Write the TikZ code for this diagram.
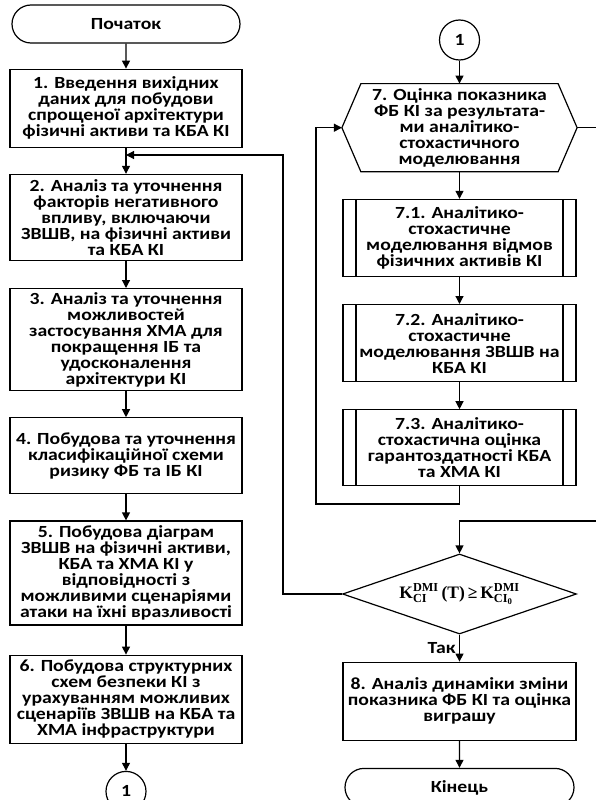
\documentclass[tikz,border=0pt]{standalone}
\usepackage{amsmath}
\usepackage{fontspec}
\setmainfont{Carlito}[FakeStretch=1.16]
\newfontfamily\formfont{Liberation Serif}
\usetikzlibrary{positioning,shapes.geometric,shapes.misc,arrows.meta}
\tikzset{main node/.style={rectangle,draw,line width=1.2pt,align=center,minimum width=232pt,inner sep=2pt,
    font=\bfseries\fontsize{17}{16}\selectfont},
  term node/.style={main node,rounded rectangle,minimum height=38pt},
  link node/.style={circle,draw,line width=1.2pt,minimum size=40pt,inner sep=0pt,
    font=\bfseries\fontsize{17}{16}\selectfont},
  sub node/.style={main node,path picture={
    \draw[line width=1.2pt] ([xshift=13pt]path picture bounding box.north west) -- ([xshift=13pt]path picture bounding box.south west)
      ([xshift=-13pt]path picture bounding box.north east) -- ([xshift=-13pt]path picture bounding box.south east);}},
  hex node/.style={main node,draw=none,minimum width=234pt,minimum height=87pt},
  cond node/.style={diamond,draw,line width=1.2pt,aspect=2.9,minimum width=234pt,minimum height=80pt,inner sep=0pt,
    font=\fontsize{17.5}{20}\selectfont},
  line/.style={line width=1.2pt},
  arrow/.style={line,-{Triangle[length=8pt,width=8pt]}},
}
\newcommand{\frm}[1]{\text{\formfont\bfseries #1}}

\begin{document}
\begin{tikzpicture}[x=1pt,y=-1pt,node distance=26pt]
	\clip (0,0) rectangle (596,800);
	% left column
	\node[term node] (begin) at (126,24) {Початок};
	\node[main node,minimum height=78pt] (s1)[below=25pt of begin]{1. Введення вихідних\\даних для побудови\\спрощеної архітектури\\фізичні активи та КБА КІ};
	\node[main node,minimum height=86pt] (s2)[below=of s1]{2. Аналіз та уточнення\\факторів негативного\\впливу, включаючи\\ЗВШВ, на фізичні активи\\та КБА КІ};
	\node[main node,minimum height=102pt] (s3)[below=27pt of s2]{3. Аналіз та уточнення\\можливостей\\застосування ХМА для\\покращення ІБ та\\удосконалення\\архітектури КІ};
	\node[main node,minimum height=76pt] (s4)[below=of s3]{4. Побудова та уточнення\\класифікаційної схеми\\ризику ФБ та ІБ КІ};
	\node[main node,minimum height=104pt] (s5)[below=of s4]{5. Побудова діаграм\\ЗВШВ на фізичні активи,\\КБА та ХМА КІ у\\відповідності з\\можливими сценаріями\\атаки на їхні вразливості};
	\node[main node,minimum height=88pt] (s6)[below=29pt of s5]{6. Побудова структурних\\схем безпеки КІ з\\урахуванням можливих\\сценаріїв ЗВШВ на КБА та\\ХМА інфраструктури};
	\node[link node] (c1)[below=27pt of s6]{1};
	
	% right column
	\node[link node] (c2) at (459.5,40) {1};
	\node[hex node] (s7)[below=23pt of c2]{7. Оцінка показника\\ФБ КІ за результата-\\ми аналітико-\\стохастичного\\моделювання};
	\draw[line] ([xshift=19pt]s7.north west) -- ([xshift=-19pt]s7.north east) -- (s7.east)
		-- ([xshift=-19pt]s7.south east) -- ([xshift=19pt]s7.south west) -- (s7.west) -- cycle;
	\node[sub node,minimum width=233pt,minimum height=77pt] (s71)[below=27pt of s7]{7.1. Аналітико-\\стохастичне\\моделювання відмов\\фізичних активів КІ};
	\node[sub node,minimum width=233pt,minimum height=77pt] (s72)[below=27pt of s71]{7.2. Аналітико-\\стохастичне\\моделювання ЗВШВ на\\КБА КІ};
	\node[sub node,minimum width=233pt,minimum height=76pt] (s73)[below=27pt of s72]{7.3. Аналітико-\\стохастична оцінка\\гарантоздатності КБА\\та ХМА КІ};
	\node[cond node] (check)[below=67pt of s73]{$\frm{K}^{\frm{DMI}}_{\frm{CI}}\,\frm{(T)}\frm{\,≥\,}\frm{K}^{\frm{DMI}}_{\frm{CI}_{\frm{0}}}$};
	\node[main node,minimum width=233pt,minimum height=78pt] (s8)[below=27pt of check]{8. Аналіз динаміки зміни\\показника ФБ КІ та оцінка\\виграшу};
	\node[term node,minimum width=233pt] (finish)[below=27pt of s8]{Кінець};
	
	\coordinate (fb) at (126,155);
	\coordinate (fbturn) at (283,155);
	\coordinate (loop) at (316,504);
	\coordinate (outer) at (600,521);
	
	\path[arrow]
	(begin) edge (s1)
	(s1) edge (s2)
	(s2) edge (s3)
	(s3) edge (s4)
	(s4) edge (s5)
	(s5) edge (s6)
	(s6) edge (c1)
	(c2) edge (s7)
	(s7) edge (s71)
	(s71) edge (s72)
	(s72) edge (s73)
	(s8) edge (finish);
	\draw[arrow] (check) -- node[left,font=\bfseries\fontsize{17}{16}\selectfont] {Так} (s8);
	\draw[arrow] (s73.south) |- (loop) |- (s7.west);
	\draw[arrow] (s7.east) -| (outer) -| (check.north);
	\draw[arrow] (check.west) -| (fbturn) -- (fb);
\end{tikzpicture}
\end{document}
